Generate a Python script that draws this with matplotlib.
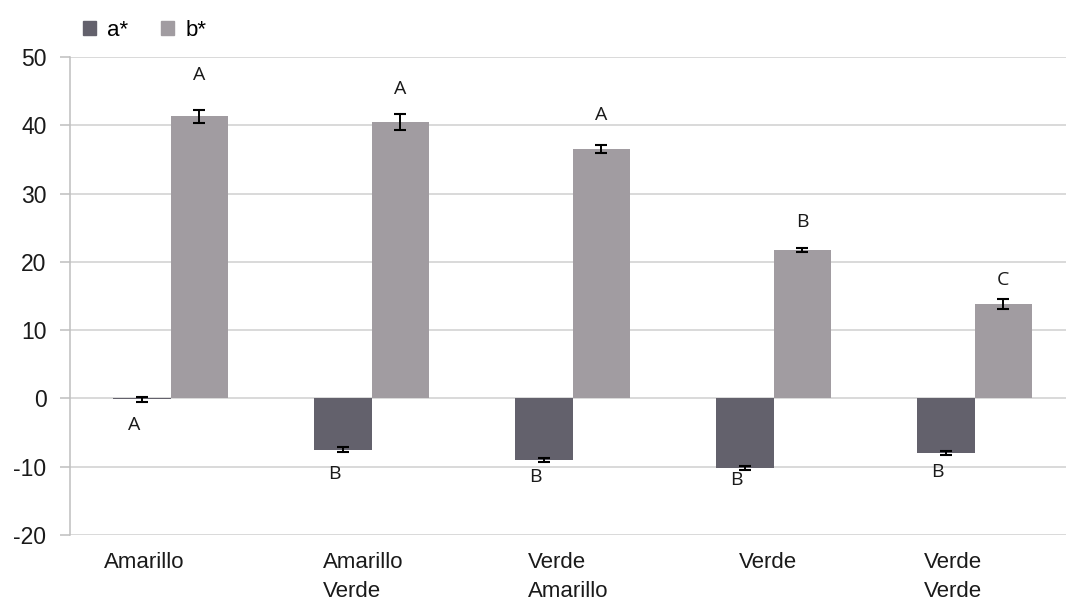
import matplotlib
matplotlib.use("Agg")
import matplotlib.pyplot as plt
from matplotlib.patches import Patch
import numpy as np

plt.rcParams["axes.unicode_minus"] = False

# Colour coordinates per fruit stage
categories = ["Amarillo", "Amarillo\nVerde", "Verde\nAmarillo", "Verde", "Verde\nVerde"]
a_star = [-0.1, -7.5, -9.0, -10.2, -8.0]
a_err = [0.35, 0.4, 0.3, 0.3, 0.3]
b_star = [41.3, 40.5, 36.5, 21.8, 13.8]
b_err = [0.9, 1.2, 0.6, 0.3, 0.7]
a_letters = ["A", "B", "B", "B", "B"]
b_letters = ["A", "A", "A", "B", "C"]
yticks = [-20, -10, 0, 10, 20, 30, 40, 50]

# layout helpers
a_letter_y = [-3.9, -11.1, -11.5, -11.9, -10.8]
b_letter_y = [47.4, 45.3, 41.5, 25.8, 17.3]
label_shift = [-0.33, -0.24, -0.22, -0.17, -0.25]

col_a = "#63616c"
col_b = "#a19ca1"
grid_col = "#d9d9d9"
axis_font = "Liberation Sans"
letter_font = "Open Sans"

fig = plt.figure(figsize=(10.66, 6.01), dpi=100)
ax = fig.add_axes([70 / 1066, 66 / 601, 996 / 1066, 478 / 601])

x = np.arange(len(categories))
w = 0.285

ax.set_ylim(-20, 50)
ax.set_xlim(-0.5, 4.455)
ax.set_yticks(yticks)
ax.yaxis.grid(True, color=grid_col, linewidth=1.4, zorder=0)
ax.set_axisbelow(True)

ax.bar(x - w / 2, a_star, width=w, color=col_a, zorder=2)
ax.bar(x + w / 2, b_star, width=w, color=col_b, zorder=2)
ax.errorbar(x - w / 2, a_star, yerr=a_err, fmt="none", ecolor="black",
            elinewidth=1.4, capsize=4, capthick=1.5, zorder=3)
ax.errorbar(x + w / 2, b_star, yerr=b_err, fmt="none", ecolor="black",
            elinewidth=1.4, capsize=4, capthick=1.5, zorder=3)

for i in range(len(categories)):
    ax.text(x[i] - w / 2 - 0.04, a_letter_y[i], a_letters[i], ha="center", va="center",
            fontsize=14, family=letter_font, color="#1a1a1a")
    ax.text(x[i] + w / 2, b_letter_y[i], b_letters[i], ha="center", va="center",
            fontsize=14, family=letter_font, color="#1a1a1a")
    ax.text(x[i] + label_shift[i], -22.5, categories[i], ha="left", va="top",
            fontsize=16, family=axis_font, color="#1a1a1a", linespacing=1.5,
            transform=ax.transData)

for s in ["top", "right", "bottom"]:
    ax.spines[s].set_visible(False)
ax.spines["left"].set_color("#bfbfbf")
ax.spines["left"].set_linewidth(1.1)

ax.set_xticks([])
ax.tick_params(axis="y", length=7, width=1.1, color="#bfbfbf", pad=10,
               labelsize=16.5, labelcolor="#1a1a1a")
for lab in ax.get_yticklabels():
    lab.set_family(axis_font)

handles = [Patch(color=col_a, label="a*"), Patch(color=col_b, label="b*")]
fig.legend(handles=handles, loc="center left", bbox_to_anchor=(83 / 1066, 1 - 30 / 601),
           ncol=2, frameon=False, borderpad=0, borderaxespad=0,
           handlelength=0.6, handleheight=0.6, handletextpad=0.5, columnspacing=1.45,
           prop={"family": axis_font, "size": 16})

fig.savefig("out.png", dpi=100)
